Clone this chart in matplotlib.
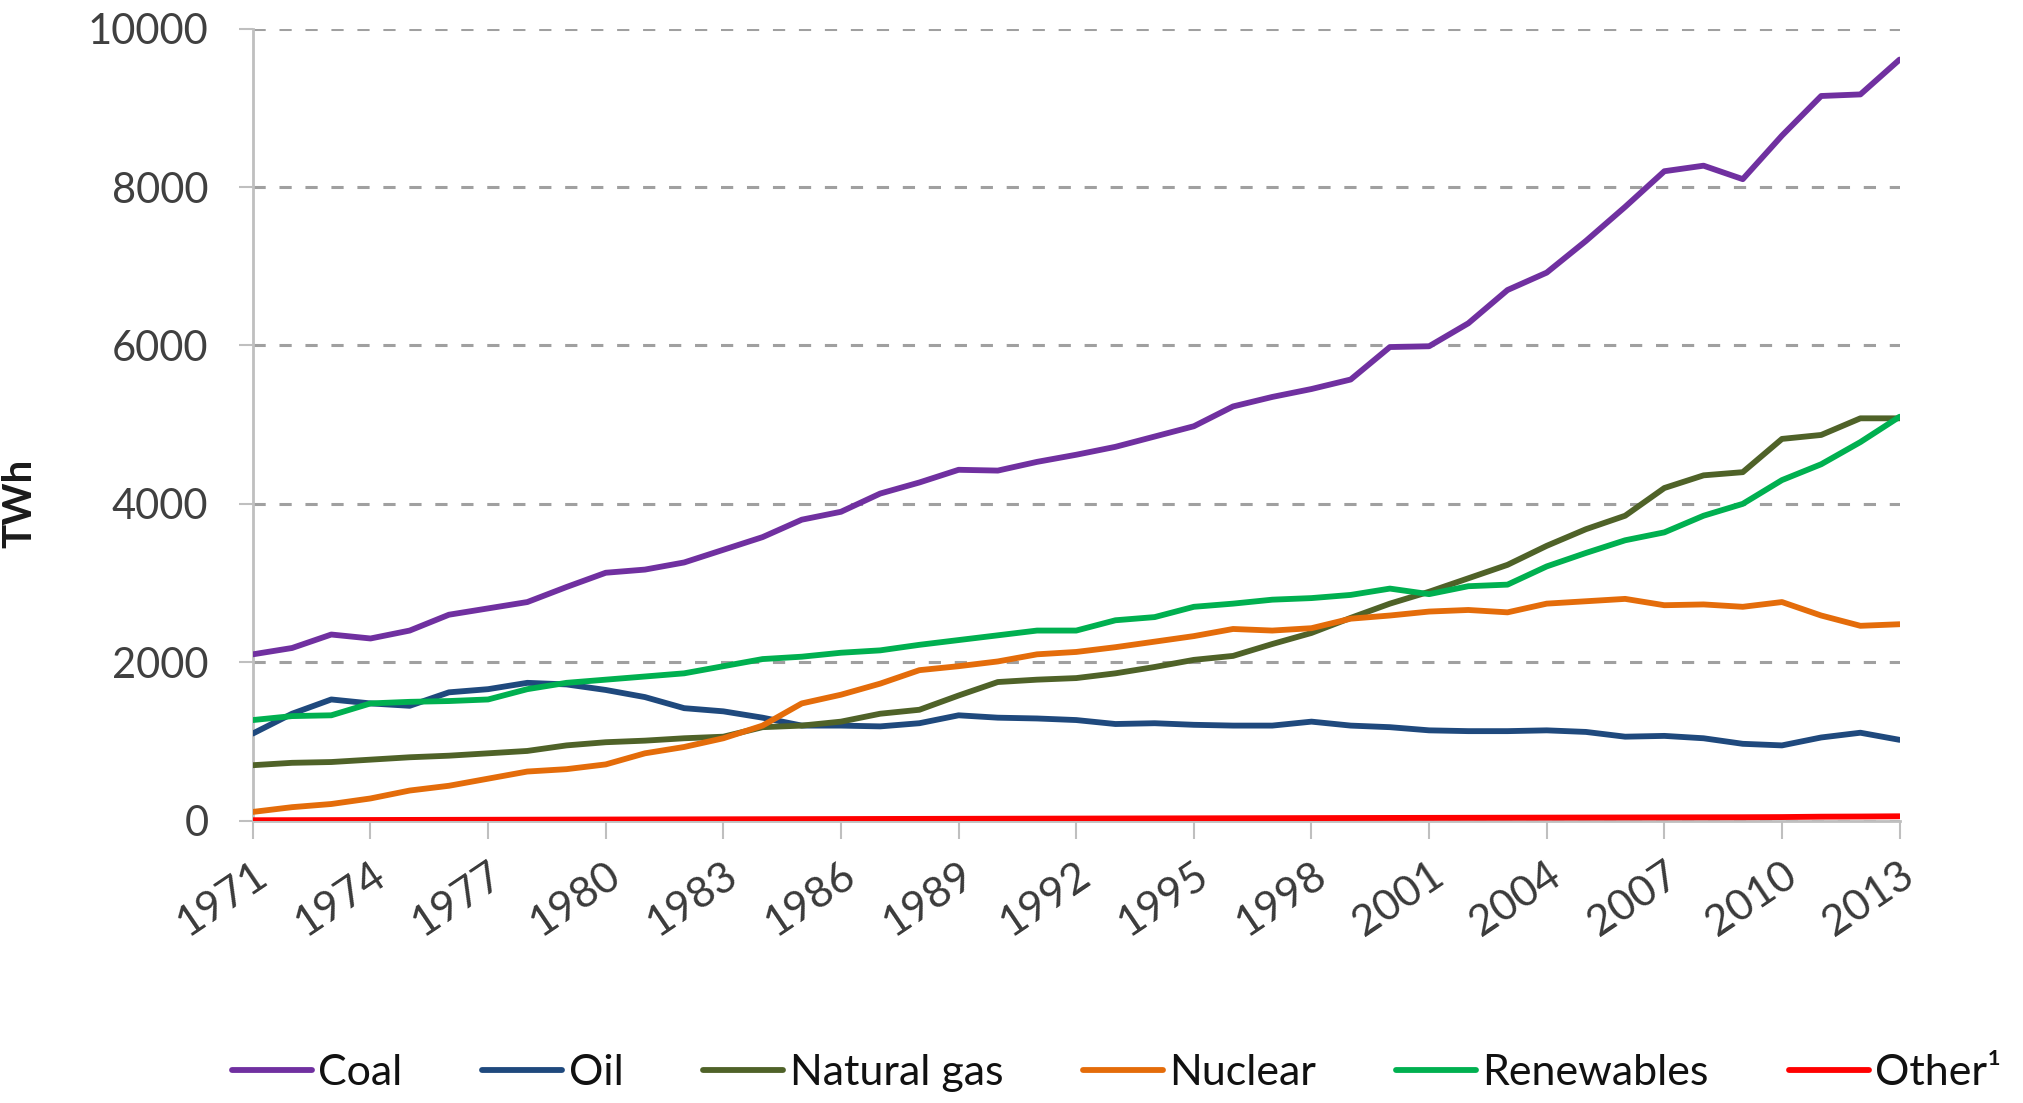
import matplotlib
matplotlib.use('Agg')
import matplotlib.pyplot as plt
import numpy as np

plt.rcParams['font.family'] = ['Lato', 'DejaVu Sans']

# ─── Data (TWh) ───
years = list(range(1971, 2014))

coal = [2100, 2180, 2350, 2300, 2400, 2600, 2680, 2760, 2950, 3130,
        3170, 3260, 3420, 3580, 3800, 3900, 4130, 4270, 4430, 4420,
        4530, 4620, 4720, 4850, 4980, 5230, 5350, 5450, 5570, 5980,
        5990, 6280, 6700, 6920, 7320, 7750, 8200, 8270, 8100, 8650,
        9150, 9170, 9610]
oil = [1100, 1350, 1530, 1480, 1450, 1620, 1660, 1740, 1720, 1650,
       1560, 1420, 1380, 1300, 1200, 1200, 1190, 1230, 1330, 1300,
       1290, 1270, 1220, 1230, 1210, 1200, 1200, 1250, 1200, 1180,
       1140, 1130, 1130, 1140, 1120, 1060, 1070, 1040, 970, 950,
       1050, 1110, 1020]
gas = [700, 730, 740, 770, 800, 820, 850, 880, 950, 990,
       1010, 1040, 1060, 1180, 1200, 1250, 1350, 1400, 1580, 1750,
       1780, 1800, 1860, 1940, 2030, 2080, 2230, 2370, 2560, 2740,
       2890, 3060, 3230, 3470, 3680, 3850, 4200, 4360, 4400, 4820,
       4870, 5080, 5080]
nuclear = [110, 170, 210, 280, 380, 440, 530, 620, 650, 710,
           850, 930, 1040, 1200, 1480, 1590, 1730, 1900, 1950, 2010,
           2100, 2130, 2190, 2260, 2330, 2420, 2400, 2430, 2550, 2590,
           2640, 2660, 2630, 2740, 2770, 2800, 2720, 2730, 2700, 2760,
           2590, 2460, 2480]
renewables = [1270, 1320, 1330, 1480, 1500, 1510, 1530, 1660, 1740, 1780,
              1820, 1860, 1950, 2040, 2070, 2120, 2150, 2220, 2280, 2340,
              2400, 2400, 2530, 2570, 2700, 2740, 2790, 2810, 2850, 2930,
              2860, 2960, 2980, 3210, 3380, 3540, 3640, 3850, 4000, 4300,
              4500, 4780, 5100]
other = [5, 6, 7, 8, 9, 10, 11, 12, 13, 14,
         15, 16, 17, 18, 19, 20, 21, 22, 23, 24,
         25, 26, 27, 28, 29, 30, 31, 32, 33, 34,
         35, 36, 37, 38, 39, 40, 41, 42, 43, 45,
         50, 52, 55]

series = [
    ('Coal', coal, '#7030A0'),
    ('Oil', oil, '#1F497D'),
    ('Natural gas', gas, '#4F6228'),
    ('Nuclear', nuclear, '#E46C0A'),
    ('Renewables', renewables, '#00B050'),
    ('Other¹', other, '#FF0000'),
]

tick_years = years[::3]

# ─── Chart ───
fig = plt.figure(figsize=(20.23, 11.03), dpi=100)
ax = fig.add_axes([0.125, 0.256, 0.814, 0.718])

for name, vals, color in series:
    ax.plot(years, vals, color=color, lw=4.2, label=name,
            solid_capstyle='round', solid_joinstyle='round', zorder=3)

ax.set_xlim(1971, 2013)
ax.set_ylim(0, 10000)
ax.set_yticks(range(0, 10001, 2000))
ax.set_xticks(tick_years)
ax.set_xticklabels([str(y) for y in tick_years], rotation=34,
                   ha='right', rotation_mode='anchor')

ax.yaxis.grid(True, color='#A0A0A0', linestyle=(0, (4, 4.5)), lw=2.2)
ax.set_axisbelow(True)

for s in ('top', 'right'):
    ax.spines[s].set_visible(False)
ax.spines['left'].set_color('#BFBFBF')
ax.spines['left'].set_linewidth(2)
ax.spines['bottom'].set_color('#BFBFBF')
ax.spines['bottom'].set_linewidth(2)

ax.tick_params(axis='x', direction='out', length=13, width=1.5,
               color='#BFBFBF', labelsize=31, labelcolor='#3A3A3A', pad=12)
ax.tick_params(axis='y', direction='out', length=10, width=1.5,
               color='#BFBFBF', labelsize=30, labelcolor='#404040', pad=22)

ax.set_ylabel('TWh', fontsize=29, fontweight='bold', color='#1A1A1A')
ax.yaxis.set_label_coords(-0.130, 0.40)

fig.legend(loc='center', bbox_to_anchor=(0.552, 0.027), ncol=6,
           frameon=False, fontsize=31, handlelength=1.86, handletextpad=0.15,
           columnspacing=1.85, labelcolor='#111111', borderpad=0)

fig.savefig('out.png', dpi=100, facecolor='white')
